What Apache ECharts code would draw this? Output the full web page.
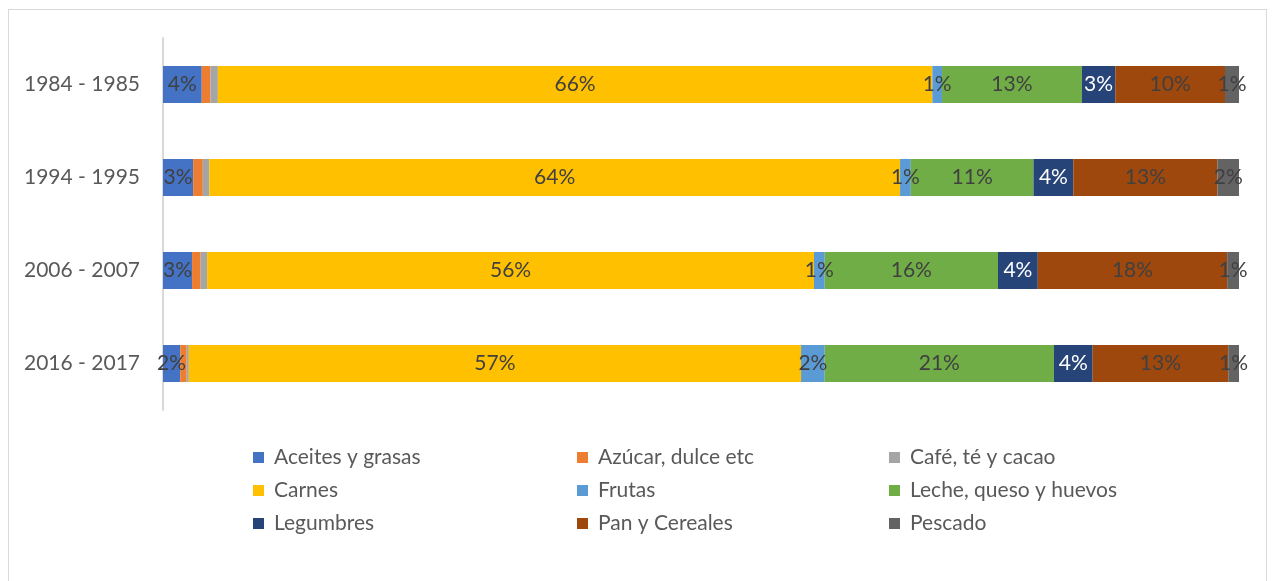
<!DOCTYPE html>
<html>
<head>
<meta charset="utf-8">
<script src="https://cdn.jsdelivr.net/npm/echarts@6/dist/echarts.min.js"></script>
<style>
  html, body { margin: 0; padding: 0; background: #fff; }
  #frame { position: absolute; left: 8px; top: 9px; width: 1259px; height: 600px; border: 1px solid #d9d9d9; box-sizing: border-box; }
  #chart { position: absolute; left: 0; top: 0; width: 1273px; height: 581px; }
</style>
</head>
<body>
<div id="frame"></div>
<div id="chart"></div>
<script>
// Periods (top to bottom)
const periods = ['1984 - 1985', '1994 - 1995', '2006 - 2007', '2016 - 2017'];

// Share of spending per food group, in percent, one value per period
const aceites   = [3.6, 2.8, 2.7, 1.6];
const azucar    = [0.8, 0.9, 0.8, 0.6];
const cafe      = [0.7, 0.6, 0.6, 0.2];
const carnes    = [66.4, 64.2, 56.4, 56.9];
const frutas    = [0.9, 1.0, 1.0, 2.2];
const leche     = [13.0, 11.4, 16.1, 21.3];
const legumbres = [3.1, 3.7, 3.7, 3.6];
const pan       = [10.2, 13.4, 17.6, 12.6];
const pescado   = [1.3, 2.0, 1.1, 1.0];

const groups = [
  { name: 'Aceites y grasas',       data: aceites,   color: '#4472C4', label: true,  text: '#404040' },
  { name: 'Azúcar, dulce etc',      data: azucar,    color: '#ED7D31', label: false, text: '#404040' },
  { name: 'Café, té y cacao',       data: cafe,      color: '#A5A5A5', label: false, text: '#404040' },
  { name: 'Carnes',                 data: carnes,    color: '#FFC000', label: true,  text: '#404040' },
  { name: 'Frutas',                 data: frutas,    color: '#5B9BD5', label: true,  text: '#404040' },
  { name: 'Leche, queso y huevos',  data: leche,     color: '#70AD47', label: true,  text: '#404040' },
  { name: 'Legumbres',              data: legumbres, color: '#264478', label: true,  text: '#ffffff' },
  { name: 'Pan y Cereales',         data: pan,       color: '#9E480E', label: true,  text: '#404040' },
  { name: 'Pescado',                data: pescado,   color: '#636363', label: true,  text: '#404040' }
];

const FONT = 'Lato';
const chart = echarts.init(document.getElementById('chart'), null, { renderer: 'canvas' });

const legendCols = [
  { left: 253, names: ['Aceites y grasas', 'Carnes', 'Legumbres'] },
  { left: 577, names: ['Azúcar, dulce etc', 'Frutas', 'Pan y Cereales'] },
  { left: 889, names: ['Café, té y cacao', 'Leche, queso y huevos', 'Pescado'] }
];

chart.setOption({
  animation: false,
  textStyle: { fontFamily: FONT },
  grid: { left: 163, right: 34, top: 38, bottom: 171 },
  legend: legendCols.map(c => ({
    orient: 'vertical',
    left: c.left,
    top: 445,
    padding: 0,
    itemWidth: 11,
    itemHeight: 11,
    itemGap: 8,
    icon: 'rect',
    selectedMode: false,
    textStyle: { fontFamily: FONT, fontSize: 21, color: '#595959', lineHeight: 25, padding: [0, 0, 0, 5] },
    data: c.names
  })),
  xAxis: {
    type: 'value',
    min: 0,
    max: 100,
    show: false,
    splitLine: { show: false }
  },
  yAxis: {
    type: 'category',
    data: periods,
    inverse: true,
    axisLine: { show: true, lineStyle: { color: '#d9d9d9', width: 2 } },
    axisTick: { show: false },
    axisLabel: { margin: 23, fontFamily: FONT, fontSize: 21, color: '#595959' }
  },
  series: groups.map(g => ({
    name: g.name,
    type: 'bar',
    stack: 'total',
    barWidth: 37,
    data: g.data,
    itemStyle: { color: g.color },
    label: {
      show: g.label,
      position: 'inside',
      fontFamily: FONT,
      fontSize: 21,
      color: g.text,
      formatter: p => Math.round(p.value) + '%'
    }
  }))
});
</script>
</body>
</html>
